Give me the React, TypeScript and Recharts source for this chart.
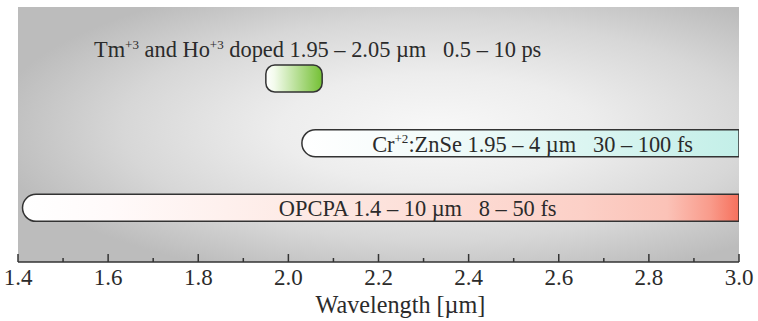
import { ComposedChart, Bar, XAxis, YAxis, CartesianGrid, ReferenceDot } from 'recharts'

// ultrafast mid-IR sources, wavelength coverage in µm
const lasers = ['TmHo', 'CrZnSe', 'OPCPA']
const rangeStart = [1.95, 2.03, 1.41]
const rangeEnd = [2.075, 4, 10]
const labelAt = [2.065, 2.542, 2.287]

const majorTicks = [1.4, 1.6, 1.8, 2.0, 2.2, 2.4, 2.6, 2.8, 3.0]
const minorTicks = [1.5, 1.7, 1.9, 2.1, 2.3, 2.5, 2.7, 2.9]

type Seg = { t: string; sup?: boolean }
const labels: Seg[][] = [
  [
    { t: 'Tm' },
    { t: '+3', sup: true },
    { t: ' and Ho' },
    { t: '+3', sup: true },
    { t: ' doped 1.95 – 2.05 µm   0.5 – 10 ps' },
  ],
  [{ t: 'Cr' }, { t: '+2', sup: true }, { t: ':ZnSe 1.95 – 4 µm   30 – 100 fs' }],
  [{ t: 'OPCPA 1.4 – 10 µm   8 – 50 fs' }],
]

const rows = lasers.map((name, i) => ({ name, range: [rangeStart[i], rangeEnd[i]] }))
const allTicks = [...majorTicks, ...minorTicks].sort((a, b) => a - b)

const FONT = '"Liberation Serif", "Times New Roman", serif'
const INK = '#2b2b2b'
const FRAME = '#333'

const barLook = [
  { radius: 9, stops: [['0', '#ffffff'], ['0.15', '#f3fbec'], ['1', '#74c034']] },
  { radius: 14, stops: [['0', '#ffffff'], ['0.3', '#f3fbfa'], ['1', '#c3efe8']] },
  {
    radius: 14,
    stops: [['0', '#ffffff'], ['0.12', '#fffafa'], ['0.45', '#fde6e0'], ['0.78', '#fcd0c7'], ['0.9', '#fbc2b7'], ['0.96', '#f99b8b'], ['1', '#f6705c']],
  },
]

function RangeBar(props: any) {
  const { x, y, width, height, index, background } = props
  const look = barLook[index]
  const plotRight = background ? background.x + background.width : x + width
  const x1 = Math.min(x + width, plotRight)
  const roundRight = x + width <= plotRight
  const r = Math.min(look.radius, height / 2)
  const rr = roundRight ? r : 0
  const d =
    `M${x + r},${y} H${x1 - rr}` +
    (rr ? ` A${rr},${rr} 0 0 1 ${x1},${y + rr}` : '') +
    ` V${y + height - rr}` +
    (rr ? ` A${rr},${rr} 0 0 1 ${x1 - rr},${y + height}` : '') +
    ` H${x + r} A${r},${r} 0 0 1 ${x},${y + height - r} V${y + r} A${r},${r} 0 0 1 ${x + r},${y} Z`
  const id = `barGrad${index}`
  return (
    <g>
      <defs>
        <linearGradient id={id} gradientUnits="userSpaceOnUse" x1={x} x2={x1} y1={0} y2={0}>
          {look.stops.map(([o, c]) => (
            <stop key={o} offset={o} stopColor={c} />
          ))}
        </linearGradient>
      </defs>
      <path d={d} fill={`url(#${id})`} stroke={FRAME} strokeWidth={1.5} />
    </g>
  )
}

function BarLabel({ cx, cy, index }: { cx: number; cy: number; index: number }) {
  const dy = index === 0 ? -21 : 8.5
  return (
    <text x={cx} y={cy + dy} textAnchor="middle" fontFamily={FONT} fontSize={22.4} fill={INK} style={{ whiteSpace: 'pre' }}>
      {labels[index].map((s, k) =>
        s.sup ? (
          <tspan key={k} fontSize={13} dy={-8.5}>
            {s.t}
          </tspan>
        ) : (
          <tspan key={k} dy={k > 0 && labels[index][k - 1].sup ? 8.5 : 0}>
            {s.t}
          </tspan>
        ),
      )}
    </text>
  )
}

function BottomTick({ x, y, payload }: any) {
  const major = majorTicks.includes(payload.value)
  return (
    <g>
      <line x1={x} x2={x} y1={y} y2={y - (major ? 8 : 4)} stroke={FRAME} strokeWidth={1.5} />
      {major && (
        <text x={x} y={y + 23} textAnchor="middle" fontFamily={FONT} fontSize={23} fill={INK}>
          {payload.value.toFixed(1)}
        </text>
      )}
    </g>
  )
}

function TopTick({ x, y, payload }: any) {
  const major = majorTicks.includes(payload.value)
  return <line x1={x} x2={x} y1={y} y2={y + (major ? 8 : 5)} stroke={FRAME} strokeWidth={1.5} />
}

function AxisTitle({ viewBox }: any) {
  const cx = viewBox.x + viewBox.width / 2 + 22
  return (
    <text x={cx} y={313} textAnchor="middle" fontFamily={FONT} fontSize={24.2} fill={INK}>
      Wavelength [µm]
    </text>
  )
}

export default function App() {
  return (
    <div style={{ position: 'absolute', left: 0, top: 0, width: 758, height: 321, background: '#fff' }}>
      <ComposedChart
        width={758}
        height={321}
        layout="vertical"
        data={rows}
        margin={{ top: 7, right: 19, bottom: 0, left: 18 }}
      >
        <defs>
          <radialGradient id="plotBg" cx="0.58" cy="0.48" r="0.62">
            <stop offset="0" stopColor="#f8f8f8" />
            <stop offset="0.35" stopColor="#ededed" />
            <stop offset="0.7" stopColor="#d7d7d7" />
            <stop offset="1" stopColor="#bcbcbc" />
          </radialGradient>
        </defs>
        <CartesianGrid horizontal={false} vertical={false} fill="url(#plotBg)" />
        <XAxis
          type="number"
          domain={[1.4, 3.0]}
          allowDataOverflow
          ticks={allTicks}
          interval={0}
          tick={BottomTick}
          tickLine={false}
          tickSize={0}
          tickMargin={0}
          height={59}
          axisLine={{ stroke: FRAME, strokeWidth: 1.5 }}
          label={AxisTitle}
        />
        <XAxis
          xAxisId="top"
          orientation="top"
          type="number"
          domain={[1.4, 3.0]}
          allowDataOverflow
          ticks={allTicks}
          interval={0}
          tick={TopTick}
          tickLine={false}
          tickSize={0}
          tickMargin={0}
          height={0}
          axisLine={{ stroke: FRAME, strokeWidth: 1.5 }}
        />
        <YAxis
          type="category"
          dataKey="name"
          width={0}
          tick={false}
          tickLine={false}
          padding={{ top: 39, bottom: 22 }}
          axisLine={{ stroke: FRAME, strokeWidth: 1.5 }}
        />
        <YAxis
          yAxisId="r"
          orientation="right"
          type="category"
          dataKey="name"
          width={0}
          tick={false}
          tickLine={false}
          padding={{ top: 39, bottom: 22 }}
          axisLine={{ stroke: FRAME, strokeWidth: 1.5 }}
        />
        <Bar dataKey="range" barSize={27} shape={RangeBar} isAnimationActive={false} />
        {lasers.map((name, i) => (
          <ReferenceDot
            key={name}
            x={labelAt[i]}
            y={name}
            r={0}
            shape={(p: any) => <BarLabel cx={p.cx} cy={p.cy} index={i} />}
          />
        ))}
      </ComposedChart>
    </div>
  )
}
